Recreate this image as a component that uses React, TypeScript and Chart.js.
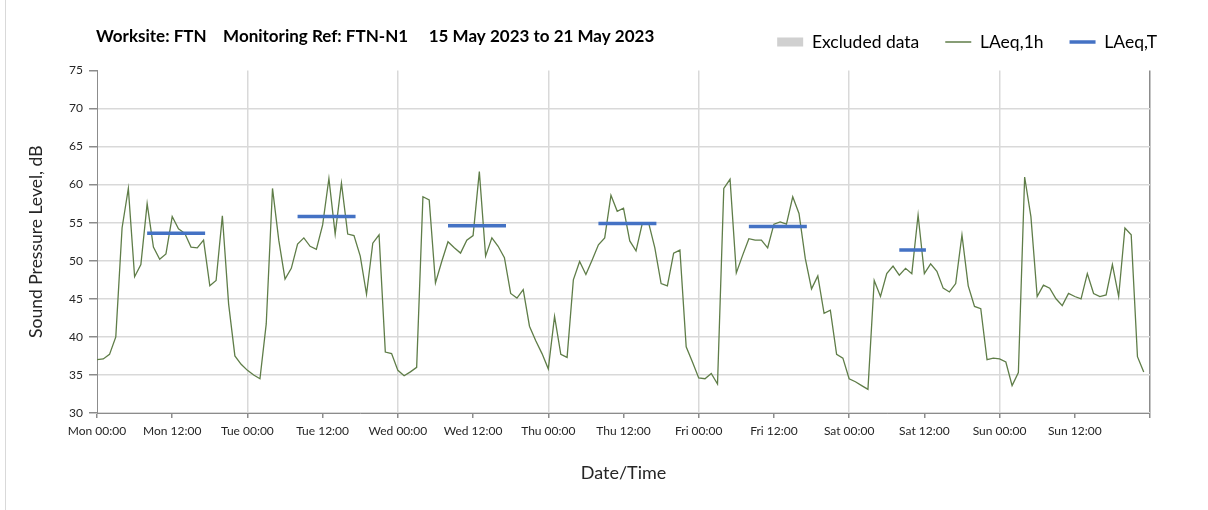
import React, { useEffect, useRef } from 'react';
import { Chart, registerables } from 'chart.js';

Chart.register(...registerables);

// ---------------- data ----------------
const xTickLabels = [
  'Mon 00:00', 'Mon 12:00', 'Tue 00:00', 'Tue 12:00', 'Wed 00:00', 'Wed 12:00',
  'Thu 00:00', 'Thu 12:00', 'Fri 00:00', 'Fri 12:00', 'Sat 00:00', 'Sat 12:00',
  'Sun 00:00', 'Sun 12:00',
];

// hourly LAeq,1h values, one array per day (00:00 .. 23:00)
const laeq1hMon = [37.0, 37.1, 37.7, 40.0, 54.3, 59.5, 47.9, 49.5, 57.5, 51.8, 50.2, 50.9, 55.8, 54.2, 53.6, 51.8, 51.7, 52.7, 46.7, 47.4, 55.9, 44.3, 37.5, 36.4];
const laeq1hTue = [35.6, 35.0, 34.5, 41.7, 59.5, 52.7, 47.6, 49.0, 52.2, 53.0, 51.9, 51.5, 54.7, 60.8, 53.5, 60.2, 53.5, 53.3, 50.6, 45.6, 52.3, 53.4, 38.0, 37.8];
const laeq1hWed = [35.6, 34.9, 35.4, 36.0, 58.4, 58.0, 47.1, 49.9, 52.5, 51.7, 51.0, 52.7, 53.3, 61.7, 50.6, 53.0, 51.9, 50.4, 45.7, 45.1, 46.2, 41.4, 39.5, 37.8];
const laeq1hThu = [35.8, 42.7, 37.7, 37.3, 47.5, 49.9, 48.2, 50.1, 52.1, 53.0, 58.6, 56.5, 56.9, 52.6, 51.3, 54.9, 55.0, 51.7, 47.0, 46.7, 51.0, 51.4, 38.7, 36.7];
const laeq1hFri = [34.6, 34.5, 35.2, 33.8, 59.5, 60.7, 48.4, 50.7, 52.9, 52.7, 52.7, 51.7, 54.8, 55.1, 54.8, 58.4, 56.2, 50.3, 46.3, 48.0, 43.1, 43.5, 37.7, 37.2];
const laeq1hSat = [34.5, 34.1, 33.6, 33.1, 47.4, 45.3, 48.3, 49.3, 48.1, 49.0, 48.3, 56.0, 48.3, 49.6, 48.6, 46.4, 45.9, 47.0, 53.4, 46.7, 44.0, 43.7, 37.0, 37.2];
const laeq1hSun = [37.1, 36.7, 33.6, 35.3, 61.0, 55.8, 45.3, 46.8, 46.4, 45.0, 44.1, 45.7, 45.3, 45.0, 48.3, 45.7, 45.3, 45.5, 49.5, 45.3, 54.3, 53.4, 37.4, 35.4];

// LAeq,T daytime values per day (Mon..Sat) with period start/end hour of day
const laeqTValues = [53.6, 55.8, 54.6, 54.9, 54.5, 51.4];
const laeqTStartHour = [8, 8, 8, 8, 8, 8];
const laeqTEndHour = [17.25, 17.25, 17.25, 17.25, 17.25, 12.25];

const excludedData: { x: number; y: number }[] = [];

const yMin = 30;
const yMax = 75;
const yStep = 5;
const xMaxHours = 168;

// ---------------- styles / layout ----------------
const FONT = 'Lato';
const GREEN = '#5f7d48';
const BLUE = '#4472c4';
const GRID = '#d9d9d9';
const AXIS = '#8c8c8c';
const TEXT = '#262626';

const TITLE_FONT = 17;
const TITLE_LEFT = 96;
const TITLE_CENTER_Y = 37;
const LEGEND_CENTER_Y = 42;
const LEGEND_RIGHT = 1183;
const LEGEND_PAD = 26;
const LEGEND_FONT = 17.5;

export default function App() {
  const ref = useRef<HTMLCanvasElement>(null);

  useEffect(() => {
    const canvas = ref.current;
    if (!canvas) return;

    const hourly = [
      ...laeq1hMon, ...laeq1hTue, ...laeq1hWed, ...laeq1hThu,
      ...laeq1hFri, ...laeq1hSat, ...laeq1hSun,
    ].map((v, i) => ({ x: i, y: v }));

    const periodPts: { x: number; y: number | null }[] = [];
    laeqTValues.forEach((v, d) => {
      periodPts.push({ x: d * 24 + laeqTStartHour[d], y: v });
      periodPts.push({ x: d * 24 + laeqTEndHour[d], y: v });
      periodPts.push({ x: d * 24 + laeqTEndHour[d], y: null });
    });

    const headerPlugin = {
      id: 'headerRow',
      beforeInit(chart: any) {
        const legend = chart.legend;
        if (legend && !legend.__patched) {
          const orig = legend.fit.bind(legend);
          legend.fit = function () {
            orig();
            this.__realH = this.height;
            this.height = 0;
          };
          legend.__patched = true;
        }
      },
      afterLayout(chart: any) {
        const t = chart.titleBlock;
        if (t) {
          const lh = TITLE_FONT * 1.2;
          const h = t.height;
          t.top = TITLE_CENTER_Y - lh / 2;
          t.bottom = t.top + h;
          const w = t.right - t.left;
          t.left = TITLE_LEFT;
          t.right = TITLE_LEFT + w;
        }
        const l = chart.legend;
        if (l) {
          const h = l.__realH || 0;
          l.top = LEGEND_CENTER_Y - LEGEND_PAD - LEGEND_FONT / 2;
          l.height = h;
          l.bottom = l.top + h;
          l.right = LEGEND_RIGHT;
          l.left = 600;
          l.width = l.right - l.left;
        }
      },
    };

    const chart = new Chart(canvas, {
      type: 'line',
      data: {
        datasets: [
          {
            label: 'Excluded data',
            data: excludedData,
            backgroundColor: '#d0d0d0',
            borderColor: '#d0d0d0',
            borderWidth: 0,
            pointRadius: 0,
            pointStyle: 'rect',
            order: 3,
          } as any,
          {
            label: 'LAeq,1h',
            data: hourly,
            borderColor: GREEN,
            backgroundColor: GREEN,
            borderWidth: 1.3,
            pointRadius: 0,
            pointStyle: 'line',
            tension: 0,
            order: 2,
          },
          {
            label: 'LAeq,T',
            data: periodPts,
            borderColor: BLUE,
            backgroundColor: BLUE,
            borderWidth: 3.5,
            pointRadius: 0,
            pointStyle: 'line',
            spanGaps: false,
            order: 1,
          },
        ],
      },
      options: {
        responsive: false,
        animation: false,
        devicePixelRatio: 1,
        parsing: false as any,
        layout: { padding: { top: 50, right: 58, bottom: 0, left: 0 } },
        plugins: {
          tooltip: { enabled: false },
          title: {
            display: true,
            text: 'Worksite: FTN    Monitoring Ref: FTN-N1     15 May 2023 to 21 May 2023',
            align: 'start',
            fullSize: false,
            color: '#000',
            font: { family: FONT, size: TITLE_FONT, weight: 'bold' },
            padding: 0,
          },
          legend: {
            display: true,
            position: 'top',
            align: 'end',
            fullSize: false,
            labels: {
              usePointStyle: true,
              pointStyleWidth: 26,
              boxHeight: 9,
              boxWidth: 26,
              padding: LEGEND_PAD,
              color: '#000',
              font: { family: FONT, size: LEGEND_FONT },
              sort: (a: any, b: any) => a.datasetIndex - b.datasetIndex,
            },
          },
        },
        scales: {
          x: {
            type: 'linear',
            min: 0,
            max: xMaxHours,
            afterFit: (s: any) => { s.height = 97; },
            afterBuildTicks: (s: any) => {
              const t = [];
              for (let v = 0; v <= xMaxHours; v += 12) t.push({ value: v });
              s.ticks = t;
            },
            ticks: {
              autoSkip: false,
              maxRotation: 0,
              minRotation: 0,
              padding: 6,
              color: TEXT,
              font: { family: FONT, size: 12 },
              callback: (v: any) => {
                const i = Math.round(Number(v) / 12);
                return xTickLabels[i] ?? '';
              },
            },
            grid: {
              drawTicks: true,
              tickLength: 5,
              tickColor: AXIS,
              lineWidth: 1.5,
              color: (ctx: any) => {
                const v = ctx.tick ? ctx.tick.value : 0;
                if (v === xMaxHours) return AXIS;
                if (v > 0 && v % 24 === 0) return GRID;
                return 'rgba(0,0,0,0)';
              },
            },
            border: { display: true, color: AXIS, width: 1 },
            title: {
              display: true,
              text: 'Date/Time',
              color: TEXT,
              font: { family: FONT, size: 18 },
              padding: { top: 0, bottom: 26 },
            },
          },
          y: {
            type: 'linear',
            min: yMin,
            max: yMax,
            afterFit: (s: any) => { s.width = 97; },
            ticks: {
              stepSize: yStep,
              padding: 6,
              color: TEXT,
              font: { family: FONT, size: 12 },
            },
            grid: {
              drawTicks: true,
              tickLength: 8,
              tickColor: AXIS,
              lineWidth: 1.5,
              color: (ctx: any) => (ctx.tick && ctx.tick.value === yMax ? 'rgba(0,0,0,0)' : GRID),
            },
            border: { display: true, color: AXIS, width: 1 },
            title: {
              display: true,
              text: 'Sound Pressure Level, dB',
              color: TEXT,
              font: { family: FONT, size: 17.5 },
              padding: { top: 25.5, bottom: 0 },
            },
          },
        },
      },
      plugins: [headerPlugin],
    } as any);

    return () => chart.destroy();
  }, []);

  return (
    <div
      style={{
        position: 'absolute',
        left: 0,
        top: 0,
        width: 1208,
        height: 510,
        background: '#fff',
      }}
    >
      <div
        style={{
          position: 'absolute',
          left: 5,
          top: 0,
          width: 0,
          height: 510,
          borderLeft: '1px solid #d9d9d9',
        }}
      />
      <canvas ref={ref} width={1208} height={510} style={{ display: 'block' }} />
    </div>
  );
}
